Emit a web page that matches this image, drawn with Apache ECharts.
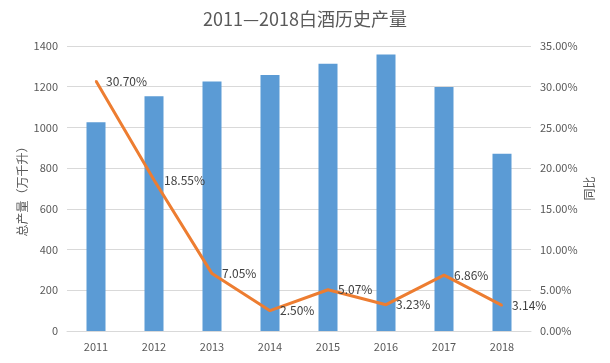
<!DOCTYPE html>
<html><head><meta charset="utf-8">
<script src="https://cdn.jsdelivr.net/npm/echarts@6/dist/echarts.min.js"></script>
<style>html,body{margin:0;padding:0;background:#fff}#c{width:610px;height:363px}</style>
</head><body><div id="c"></div>
<script>
const years = ['2011','2012','2013','2014','2015','2016','2017','2018'];
const output = [1025.6, 1153.2, 1226.2, 1257.1, 1312.8, 1358.4, 1198.1, 871.2];
const growth = [30.70, 18.55, 7.05, 2.50, 5.07, 3.23, 6.86, 3.14];
const leftTicks = {min: 0, max: 1400, interval: 200};
const rightTicks = {min: 0, max: 35, interval: 5};

const font = '"Noto Sans CJK SC", "Liberation Sans", sans-serif';
const chart = echarts.init(document.getElementById('c'));
chart.setOption({
  animation: false,
  textStyle: {fontFamily: font},
  title: {text: '2011—2018白酒历史产量', left: 'center', top: 5,
    textStyle: {fontSize: 18, fontWeight: 'normal', color: '#595959', fontFamily: font}},
  grid: {left: 67, right: 79, top: 46, bottom: 32},
  xAxis: {type: 'category', data: years,
    axisLine: {lineStyle: {color: '#d9d9d9'}}, axisTick: {show: false},
    axisLabel: {color: '#595959', fontSize: 11, margin: 10}},
  yAxis: [
    {type: 'value', min: leftTicks.min, max: leftTicks.max, interval: leftTicks.interval,
     name: '总产量（万千升）', nameLocation: 'middle', nameGap: 39, nameRotate: 90,
     nameMoveOverlap: false,
     nameTextStyle: {color: '#595959', fontSize: 12},
     axisLine: {show: false}, axisTick: {show: false},
     axisLabel: {color: '#595959', fontSize: 11, margin: 9, formatter: v => String(v)},
     splitLine: {lineStyle: {color: '#d9d9d9'}}},
    {type: 'value', min: rightTicks.min, max: rightTicks.max, interval: rightTicks.interval,
     name: '同比', nameLocation: 'middle', nameGap: 52, nameRotate: 90,
     nameMoveOverlap: false,
     nameTextStyle: {color: '#595959', fontSize: 12},
     axisLine: {show: false}, axisTick: {show: false},
     axisLabel: {color: '#595959', fontSize: 11, margin: 9, formatter: v => v.toFixed(2) + '%'},
     splitLine: {show: false}}
  ],
  series: [
    {type: 'bar', data: output, barWidth: 19, itemStyle: {color: '#5B9BD5'}},
    {type: 'line', yAxisIndex: 1, data: growth, symbol: 'circle', symbolSize: 2, showSymbol: true,
     lineStyle: {color: '#ED7D31', width: 3}, itemStyle: {color: '#ED7D31'},
     label: {show: true, position: 'right', distance: 9, color: '#404040', fontSize: 12,
       formatter: p => p.value.toFixed(2) + '%'}}
  ]
});
</script></body></html>
